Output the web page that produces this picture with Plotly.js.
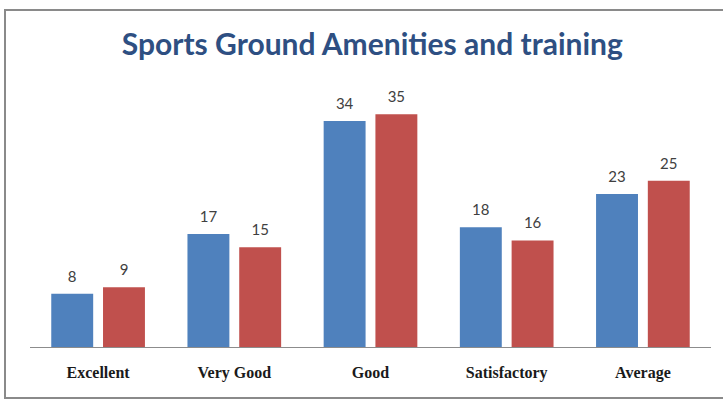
<!DOCTYPE html>
<html>
<head>
<meta charset="utf-8">
<script src="https://cdn.plot.ly/plotly-3.0.1.min.js"></script>
<style>
  html, body { margin: 0; padding: 0; background: #ffffff; }
  #wrap { position: relative; width: 723px; height: 401px; overflow: hidden; }
  #frame { position: absolute; left: 4px; top: 9px; width: 740px; height: 386px; border: 2px solid #8a8a8a; pointer-events: none; }
  #chart { position: absolute; left: 0; top: 0; width: 723px; height: 401px; }
</style>
</head>
<body>
<div id="wrap">
  <div id="chart"></div>
  <div id="frame"></div>
</div>
<script>
const categories = ["Excellent", "Very Good", "Good", "Satisfactory", "Average"];
const seriesA = [8, 17, 34, 18, 23];
const seriesB = [9, 15, 35, 16, 25];

const colorA = "#4F81BD";
const colorB = "#C0504D";
const labelFont = { family: "Lato, 'Open Sans', sans-serif", size: 15, color: "#404040" };

function barTrace(vals, color) {
  return { type: "bar", x: categories, y: vals, marker: { color: color }, hoverinfo: "skip" };
}
function labelTrace(vals) {
  return {
    type: "scatter", mode: "markers+text", x: categories, y: vals,
    text: vals.map(String), textposition: "top center", textfont: labelFont,
    marker: { size: 12, opacity: 0 }, cliponaxis: false, hoverinfo: "skip"
  };
}

const traces = [barTrace(seriesA, colorA), barTrace(seriesB, colorB), labelTrace(seriesA), labelTrace(seriesB)];

const layout = {
  width: 723, height: 401,
  margin: { l: 30, r: 12, t: 81, b: 54 },
  paper_bgcolor: "rgba(0,0,0,0)",
  plot_bgcolor: "rgba(0,0,0,0)",
  showlegend: false,
  barmode: "group",
  bargap: 0.24,
  bargroupgap: 0.19,
  scattermode: "group",
  scattergap: 0.24,
  title: {
    text: "<b>Sports Ground Amenities and training</b>",
    font: { family: "Lato, 'Open Sans', sans-serif", size: 30, color: "#2E4F82" },
    x: 0.515, xanchor: "center", y: 0.888, yanchor: "middle"
  },
  xaxis: {
    type: "category",
    showline: true, linecolor: "#8c8c8c", linewidth: 1,
    showgrid: false, zeroline: false, ticks: "",
    ticklabelstandoff: 11,
    tickfont: { family: "'Liberation Serif', 'DejaVu Serif', serif", size: 16, color: "#1a1a1a", weight: "bold" }
  },
  yaxis: {
    range: [0, 40],
    visible: false, showgrid: false, zeroline: false
  }
};

Plotly.newPlot("chart", traces, layout, { staticPlot: true, displayModeBar: false });
</script>
</body>
</html>
